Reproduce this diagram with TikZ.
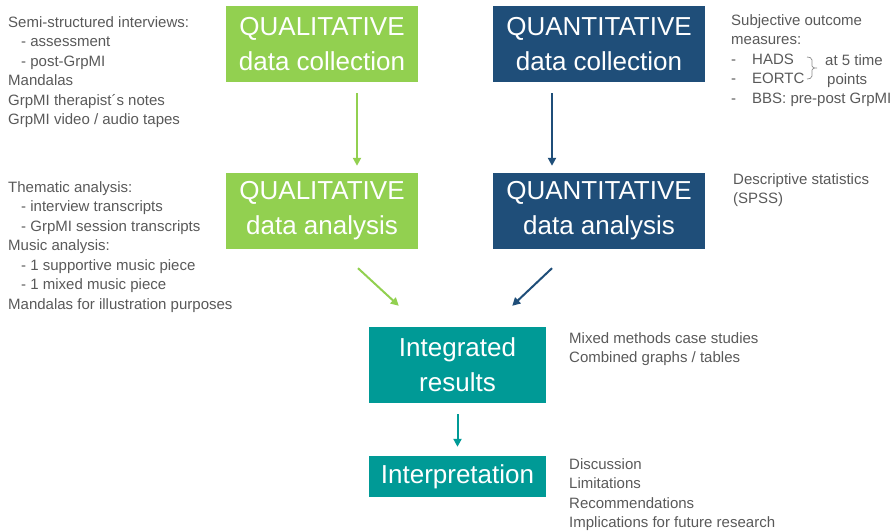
\documentclass[tikz,border=0pt]{standalone}
\usepackage{fontspec}
\setmainfont{Liberation Sans}
\usetikzlibrary{arrows.meta}
\definecolor{qualgreen}{HTML}{92D050}
\definecolor{quantblue}{HTML}{1F4E79}
\definecolor{mixteal}{HTML}{009A96}
\definecolor{notegray}{HTML}{595959}
\begin{document}
\begin{tikzpicture}[x=1pt,y=-1pt,
  box/.style={rectangle, text=white, inner sep=0pt, align=center, font=\fontsize{26}{35}\selectfont},
  qualbox/.style={box, fill=qualgreen, minimum width=192pt, minimum height=76pt},
  quantbox/.style={box, fill=quantblue, minimum width=212pt, minimum height=76pt},
  mixbox/.style={box, fill=mixteal, minimum width=177pt},
  note/.style={anchor=north west, inner sep=0pt, align=left, text=notegray, font=\fontsize{15}{19.5}\selectfont},
  flow/.style={line width=2pt, -{Triangle[length=8pt,width=8pt]}}]
\useasboundingbox (0,0) rectangle (895,531);
\node [qualbox] (qlcol) at (322,44) {QUALITATIVE\\data collection};
\node [quantbox] (qncol) at (599,44) {QUANTITATIVE\\data collection};
\node [qualbox] (qlana) at (322,211) {QUALITATIVE\\data analysis};
\node [quantbox] (qnana) at (599,211) {QUANTITATIVE\\data analysis};
\node [mixbox, minimum height=76pt] (res) at (457.5,365) {Integrated\\results};
\node [mixbox, minimum height=41pt] (interp) at (457.5,476.5) {Interpretation};
\node [note] (qlcolnote) at (8,16) {Semi-structured interviews:\\\hspace*{13pt}- assessment\\\hspace*{13pt}- post-GrpMI\\Mandalas\\GrpMI therapist´s notes\\GrpMI video / audio tapes};
\node [note] (qlananote) at (8,181) {Thematic analysis:\\\hspace*{13pt}- interview transcripts\\\hspace*{13pt}- GrpMI session transcripts\\Music analysis:\\\hspace*{13pt}- 1 supportive music piece\\\hspace*{13pt}- 1 mixed music piece\\Mandalas for illustration purposes};
\node [note] (qncolnote) at (731,14) {Subjective outcome\\measures:\\\makebox[21pt][l]{-}HADS\\\makebox[21pt][l]{-}EORTC\\\makebox[21pt][l]{-}BBS: pre-post GrpMI};
\node [note, anchor=base west] (timesa) at (825,65) {at 5 time};
\node [note, anchor=base west] (timesb) at (827,84) {points};
\node [note] (qnananote) at (733,173) {Descriptive statistics\\(SPSS)};
\node [note] (resnote) at (569,332) {Mixed methods case studies\\Combined graphs / tables};
\node [note] (interpnote) at (569,458) {Discussion\\Limitations\\Recommendations\\Implications for future research};
\draw [notegray!70, line width=0.7pt] (807,57) to[out=0,in=90] (812,60) -- (812,66) to[out=-90,in=180] (817,68) to[out=180,in=90] (812,70) -- (812,76) to[out=-90,in=0] (807,79);
\draw [flow, qualgreen] ([xshift=35pt,yshift=-11pt]qlcol.south) -- ([xshift=35pt,yshift=7pt]qlana.north);
\draw [flow, quantblue] ([xshift=-47pt,yshift=-11pt]qncol.south) -- ([xshift=-47pt,yshift=7pt]qnana.north);
\draw [flow, qualgreen] ([xshift=36pt,yshift=-19pt]qlana.south) -- ([xshift=30pt,yshift=21pt]res.north west);
\draw [flow, quantblue] ([xshift=-47pt,yshift=-19pt]qnana.south) -- ([xshift=-34pt,yshift=21pt]res.north east);
\draw [flow, mixteal] ([yshift=-11pt]res.south) -- ([yshift=9pt]interp.north);
\end{tikzpicture}
\end{document}
